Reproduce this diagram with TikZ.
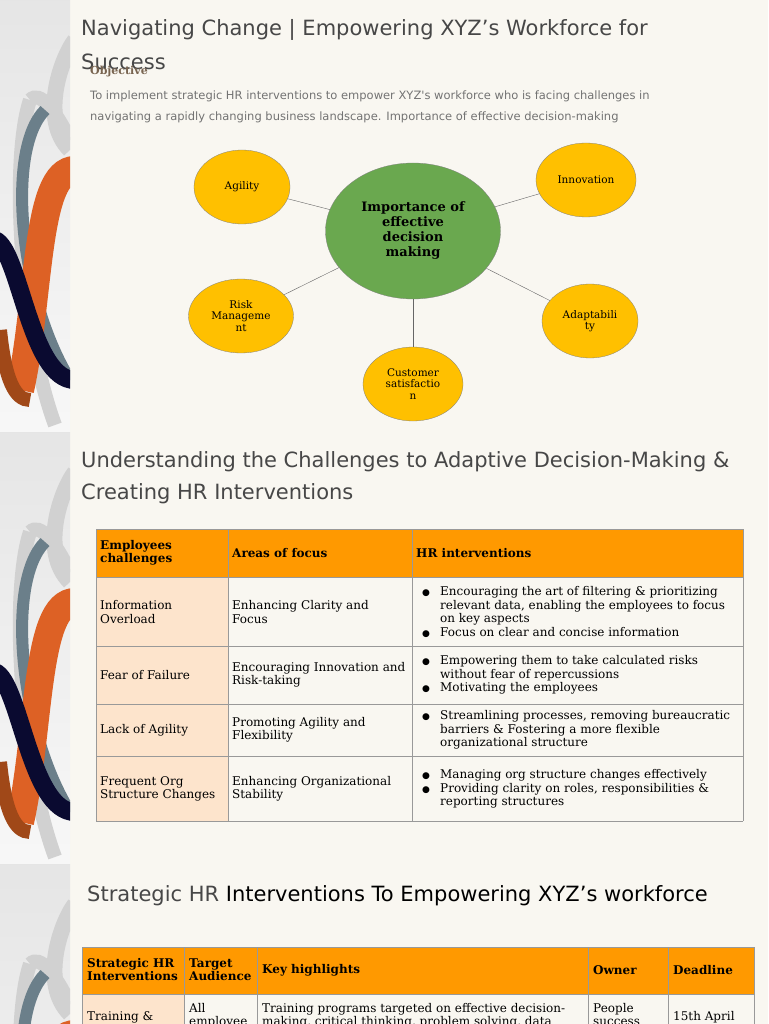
\documentclass[tikz,border=0pt]{standalone}
\usepackage{fontspec}
\setmainfont{DejaVu Serif}
\newfontfamily\hsans{DejaVu Sans}
\begin{document}
\begin{tikzpicture}[x=1pt,y=-1pt,
 ttl/.style={anchor=west,inner sep=1pt,font=\hsans\fontsize{21}{26}\selectfont,text=black!72},
 yel/.style={ellipse,fill=yellowc,draw=black!50,line width=0.3pt,inner sep=0pt,align=center,font=\fontsize{10.5}{11.5}\selectfont},
 cell/.style={anchor=west,inner sep=1pt,align=left,font=\fontsize{12}{13.5}\selectfont},
 hcell/.style={anchor=west,inner sep=1pt,align=left,font=\bfseries\fontsize{12}{13}\selectfont},
 lk/.style={draw=black!60,line width=0.4pt}]
\usetikzlibrary{shapes.geometric}
\definecolor{bgc}{HTML}{F9F7F1}
\definecolor{yellowc}{HTML}{FFC000}
\definecolor{greenc}{HTML}{6AA84F}
\definecolor{orh}{HTML}{FF9900}
\definecolor{peach}{HTML}{FDE4CC}
\definecolor{gline}{HTML}{999999}
\path[use as bounding box] (0,0) rectangle (768,1024);
\fill[bgc] (0,0) rectangle (768,1024);
% left decoration strips
\foreach \oy/\h in {0/432,432/432,864/160}{
 \begin{scope}[yshift=-\oy pt]
 \clip (0,0) rectangle (70,\h);
 \shade[top color=black!10,bottom color=black!3] (0,0) rectangle (70,432);
 \draw[line width=16pt,color=black!18] (75,40) .. controls (60,60) and (40,120) .. (70,150);
 \draw[line width=14pt,color=black!18] (30,100) .. controls (10,160) and (20,330) .. (55,425);
 \draw[line width=14pt,color=black!18] (30,100) .. controls (40,90) and (55,110) .. (70,140);
 \draw[line width=12pt,color={rgb,255:red,107;green,127;blue,138}] (45,110) .. controls (5,150) and (20,300) .. (70,380);
 \draw[line width=28pt,color={rgb,255:red,221;green,97;blue,37}] (75,170) .. controls (35,170) and (40,300) .. (20,390);
 \draw[line width=14pt,color={rgb,255:red,160;green,72;blue,24}] (0,330) .. controls (5,380) and (15,400) .. (30,400);
 \draw[line width=18pt,color={rgb,255:red,10;green,10;blue,48}] (-5,240) .. controls (20,250) and (30,380) .. (75,380);
 \end{scope}}
% section 1
\node[ttl] (t1) at (80,30) {Navigating Change | Empowering XYZ’s Workforce for};
\node[ttl] (t1b) at (80,62) {Success};
\node[anchor=west,inner sep=1pt,font=\bfseries\fontsize{11}{12}\selectfont,text={rgb,255:red,120;green,100;blue,80}] (obj) at (89,72) {Objective};
\node[anchor=west,inner sep=1pt,font=\hsans\fontsize{11.5}{13}\selectfont,text=black!55] (o1) at (89,96) {To implement strategic HR interventions to empower XYZ's workforce who is facing challenges in};
\node[anchor=west,inner sep=1pt,font=\hsans\fontsize{11.5}{13}\selectfont,text=black!55] (o2) at (89,117) {navigating a rapidly changing business landscape. Importance of effective decision-making};
\node[ellipse,fill=greenc,draw=black!50,line width=0.3pt,minimum width=175pt,minimum height=136pt,inner sep=0pt,align=center,font=\bfseries\fontsize{13}{15}\selectfont] (c) at (413,231) {Importance of\\effective\\decision\\making};
\node[yel,minimum width=96pt,minimum height=74pt] (a) at (242,187) {Agility};
\node[yel,minimum width=100pt,minimum height=74pt] (i) at (586,180) {Innovation};
\node[yel,minimum width=105pt,minimum height=74pt] (r) at (241,316) {Risk\\Manageme\\nt};
\node[yel,minimum width=96pt,minimum height=74pt] (ad) at (590,321) {Adaptabili\\ty};
\node[yel,minimum width=100pt,minimum height=74pt] (cs) at (413,384) {Customer\\satisfactio\\n};
\foreach \n in {a,i,r,ad,cs}{\draw[lk] (c) -- (\n);}
% section 2
\node[ttl] (t2) at (80,462) {Understanding the Challenges to Adaptive Decision-Making \&};
\node[ttl] (t2b) at (80,494) {Creating HR Interventions};
\fill[orh] (96,529) rectangle (743,577);
\fill[peach] (96,577) rectangle (228,821);
\foreach \y in {529,577,646,704,756,821}{\draw[gline,line width=0.6pt] (96,\y) -- (743,\y);}
\foreach \x in {96,228,412,743}{\draw[gline,line width=0.6pt] (\x,529) -- (\x,821);}
\node[hcell] (h1) at (99,553) {Employees\\challenges};
\node[hcell] (h2) at (231,553) {Areas of focus};
\node[hcell] (h3) at (415,553) {HR interventions};
\node[cell] at (99,612) {Information\\Overload};
\node[cell] at (231,612) {Enhancing Clarity and\\Focus};
\node[cell] at (99,675) {Fear of Failure};
\node[cell] at (231,675) {Encouraging Innovation and\\Risk-taking};
\node[cell] at (99,730) {Lack of Agility};
\node[cell] at (231,730) {Promoting Agility and\\Flexibility};
\node[cell] at (99,789) {Frequent Org\\Structure Changes};
\node[cell] at (231,789) {Enhancing Organizational\\Stability};
\newcommand{\bl}{\makebox[18pt][l]{\hsans\small●}}
\newcommand{\ind}{\hspace*{18pt}}
\node[cell] at (421,612) {\bl Encouraging the art of filtering \& prioritizing\\\ind relevant data, enabling the employees to focus\\\ind on key aspects\\\bl Focus on clear and concise information};
\node[cell] at (421,675) {\bl Empowering them to take calculated risks\\\ind without fear of repercussions\\\bl Motivating the employees};
\node[cell] at (421,730) {\bl Streamlining processes, removing bureaucratic\\\ind barriers \& Fostering a more flexible\\\ind organizational structure};
\node[cell] at (421,789) {\bl Managing org structure changes effectively\\\bl Providing clarity on roles, responsibilities \&\\\ind reporting structures};
% section 3
\node[anchor=west,inner sep=1pt,font=\hsans\fontsize{21}{26}\selectfont] (t3) at (86,896) {\textcolor{black!72}{Strategic HR} Interventions To Empowering XYZ’s workforce};
\begin{scope}
\clip (0,0) rectangle (768,1024);
\fill[orh] (82,947) rectangle (754,994);
\fill[peach] (82,994) rectangle (184,1040);
\foreach \y in {947,994}{\draw[gline,line width=0.6pt] (82,\y) -- (754,\y);}
\foreach \x in {82,184,257,588,668,754}{\draw[gline,line width=0.6pt] (\x,947) -- (\x,1040);}
\node[hcell] at (86,970) {Strategic HR\\Interventions};
\node[hcell] at (188,970) {Target\\Audience};
\node[hcell] at (261,970) {Key highlights};
\node[hcell] at (592,970) {Owner};
\node[hcell] at (672,970) {Deadline};
\node[cell,anchor=north west] at (86,1010) {Training \&};
\node[cell,anchor=north west] at (188,1002) {All\\employee};
\node[cell,anchor=north west] at (261,1002) {Training programs targeted on effective decision-\\making, critical thinking, problem solving, data};
\node[cell,anchor=north west] at (592,1002) {People\\success};
\node[cell,anchor=north west] at (672,1010) {15th April};
\end{scope}
\end{tikzpicture}
\end{document}
